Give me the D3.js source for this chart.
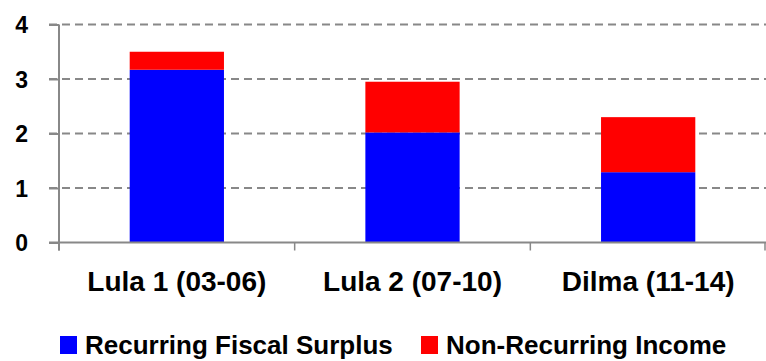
<!DOCTYPE html>
<html>
<head>
<meta charset="utf-8">
<script src="https://cdn.jsdelivr.net/npm/d3@7"></script>
<style>
  html, body { margin: 0; padding: 0; background: #fff; }
  svg { display: block; }
  text { font-family: "Liberation Sans", Arial, sans-serif; font-weight: bold; fill: #000; }
</style>
</head>
<body>
<script>
// Fiscal surplus per presidential term, % of GDP
const categories = ["Lula 1 (03-06)", "Lula 2 (07-10)", "Dilma (11-14)"];
const recurring = [3.17, 2.02, 1.29];
const nonRecurring = [0.33, 0.93, 1.01];
const seriesNames = ["Recurring Fiscal Surplus", "Non-Recurring Income"];
const seriesColors = ["#0000ff", "#ff0000"];
const yTicks = [0, 1, 2, 3, 4];

const W = 766, H = 361;
const plotLeft = 59, plotRight = 766, plotTop = 24.5, plotBottom = 242.5;

const svg = d3.select("body").append("svg").attr("width", W).attr("height", H);

const x = d3.scaleBand().domain(categories).range([plotLeft, plotRight]).paddingInner(0.6).paddingOuter(0.3);
const y = d3.scaleLinear().domain([0, 4]).range([plotBottom, plotTop]);

// dashed horizontal gridlines
svg.append("g").selectAll("line").data(yTicks.filter(d => d > 0)).join("line")
  .attr("x1", plotLeft - 10).attr("x2", plotRight)
  .attr("y1", d => y(d)).attr("y2", d => y(d))
  .attr("stroke", "#888").attr("stroke-width", 2).attr("stroke-dasharray", "8,5");

// stacked bars
const rows = categories.map((c, i) => ({ cat: c, r: recurring[i], n: nonRecurring[i] }));
const stacked = d3.stack().keys(["r", "n"])(rows);
svg.append("g").selectAll("g").data(stacked).join("g")
  .attr("fill", (d, i) => seriesColors[i])
  .selectAll("rect").data(d => d).join("rect")
  .attr("x", d => x(d.data.cat))
  .attr("width", x.bandwidth())
  .attr("y", d => y(d[1]))
  .attr("height", d => y(d[0]) - y(d[1]));

// y axis
const yAxis = svg.append("g").attr("transform", `translate(${plotLeft},0)`)
  .call(d3.axisLeft(y).tickValues(yTicks).tickSize(10).tickPadding(0).tickFormat(d3.format("d")));
yAxis.select(".domain").remove();
yAxis.selectAll(".tick line").attr("stroke", "#888").attr("stroke-width", 2);
yAxis.selectAll(".tick text").attr("x", -31).attr("dy", "0.36em")
  .style("font-size", "23px").style("font-family", "'Liberation Sans', Arial, sans-serif").style("font-weight", "bold");
svg.append("line").attr("x1", plotLeft).attr("x2", plotLeft).attr("y1", plotTop).attr("y2", plotBottom + 8)
  .attr("stroke", "#888").attr("stroke-width", 2);

// category axis
const xAxis = svg.append("g").attr("transform", `translate(0,${plotBottom})`)
  .call(d3.axisBottom(x).tickSize(0).tickPadding(0));
xAxis.select(".domain").remove();
xAxis.selectAll(".tick text").attr("y", 48).attr("dy", 0)
  .style("font-size", "28px").style("font-family", "'Liberation Sans', Arial, sans-serif").style("font-weight", "bold");
svg.append("line").attr("x1", plotLeft - 10).attr("x2", plotRight).attr("y1", plotBottom).attr("y2", plotBottom)
  .attr("stroke", "#888").attr("stroke-width", 2);
// category boundary ticks
const bounds = d3.range(categories.length + 1).map(i => plotLeft + i * (plotRight - plotLeft) / categories.length);
svg.append("g").selectAll("line").data(bounds).join("line")
  .attr("x1", d => Math.min(d, plotRight - 1)).attr("x2", d => Math.min(d, plotRight - 1))
  .attr("y1", plotBottom).attr("y2", plotBottom + 8)
  .attr("stroke", "#888").attr("stroke-width", 1.5);

// legend
const legendX = [60, 421];
const lg = svg.append("g").selectAll("g").data(seriesNames).join("g")
  .attr("transform", (d, i) => `translate(${legendX[i]},336)`);
lg.append("rect").attr("width", 17).attr("height", 18).attr("fill", (d, i) => seriesColors[i]);
lg.append("text").attr("x", 25).attr("y", 18).style("font-size", "26px").text(d => d);
</script>
</body>
</html>
